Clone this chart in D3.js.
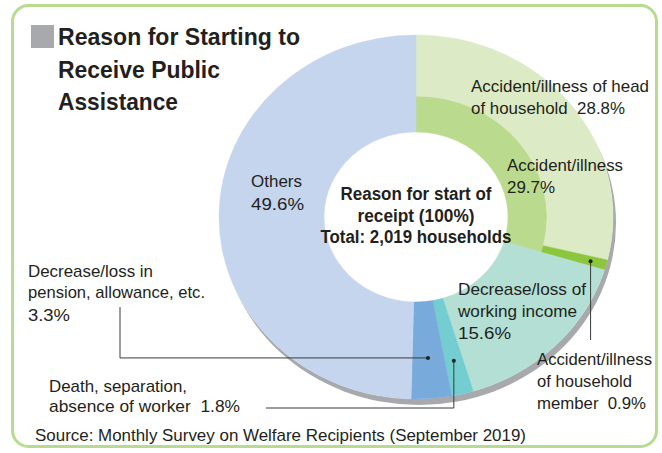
<!DOCTYPE html>
<html>
<head>
<meta charset="utf-8">
<script src="https://cdn.jsdelivr.net/npm/d3@7"></script>
<style>
  html, body { margin: 0; padding: 0; background: #ffffff; }
  svg { display: block; }
  text { font-family: "Liberation Sans", Arial, Helvetica, sans-serif; fill: #231f20; white-space: pre; }
</style>
</head>
<body>
<svg id="chart" width="662" height="453"></svg>
<script>
// ---- Data ----
const categories = [
  "Accident/illness",
  "Decrease/loss of working income",
  "Death, separation, absence of worker",
  "Decrease/loss in pension, allowance, etc.",
  "Others"
];
const values = [29.7, 15.6, 1.8, 3.3, 49.6];
const subCategories = [
  "Accident/illness of head of household",
  "Accident/illness of household member"
];
const subValues = [28.8, 0.9];
const totalHouseholds = "2,019";

// ---- Styles ----
const colors = ["#badb8d", "#b3dfd4", "#74cdd0", "#78aadc", "#c6d5ee"];
const subColors = ["#dcebc5", "#8cc63f"];

const svg = d3.select("#chart");
const cx = 416, cy = 217, rOuter = 197, rMid = 131, rInner = 92, yScale = 0.924;

// frame
svg.append("rect")
  .attr("x", 12.5).attr("y", 5.5).attr("width", 644).attr("height", 441)
  .attr("rx", 16).attr("fill", "#fff")
  .attr("stroke", "#b7db8f").attr("stroke-width", 3);

// title
svg.append("rect").attr("x", 31).attr("y", 25).attr("width", 23).attr("height", 23).attr("fill", "#a7a9ac");
const titleLines = [["Reason for Starting to", 45, 242], ["Receive Public", 78, 162], ["Assistance", 110, 120]];
titleLines.forEach(([t, y, w]) => {
  svg.append("text").attr("x", 58).attr("y", y)
    .attr("font-size", 24).attr("font-weight", "bold")
    .attr("textLength", w).attr("lengthAdjust", "spacingAndGlyphs").text(t);
});

// ---- Donut ----
const angle = d3.scaleLinear().domain([0, 100]).range([0, 2 * Math.PI]);
const cum = [0, ...d3.cumsum(values)];
const subCum = [0, ...d3.cumsum(subValues)];

const g = svg.append("g").attr("transform", `translate(${cx},${cy}) scale(1,${yScale})`);

// shadow
g.append("circle").attr("cx", 3).attr("cy", 6.5).attr("r", rOuter).attr("fill", "#a7a9ac");
g.append("circle").attr("cx", 0).attr("cy", 0).attr("r", rOuter).attr("fill", "#fff");

const arc = d3.arc();
values.forEach((v, i) => {
  const a0 = angle(cum[i]), a1 = angle(cum[i + 1]);
  if (i === 0) {
    g.append("path")
      .attr("d", arc({ innerRadius: rInner, outerRadius: rMid, startAngle: a0, endAngle: a1 }))
      .attr("fill", colors[i]).attr("stroke", colors[i]).attr("stroke-width", 0.5);
    subValues.forEach((sv, j) => {
      g.append("path")
        .attr("d", arc({ innerRadius: rMid, outerRadius: rOuter, startAngle: angle(subCum[j]), endAngle: angle(subCum[j + 1]) }))
        .attr("fill", subColors[j]).attr("stroke", subColors[j]).attr("stroke-width", 0.5);
    });
  } else {
    g.append("path")
      .attr("d", arc({ innerRadius: rInner, outerRadius: rOuter, startAngle: a0, endAngle: a1 }))
      .attr("fill", colors[i]).attr("stroke", colors[i]).attr("stroke-width", 0.5);
  }
});

// helper: screen point at given percentage position & radius
function pt(pct, r) {
  const a = angle(pct);
  return [cx + r * Math.sin(a), cy - r * Math.cos(a) * yScale];
}

// ---- Leader lines ----
const lineColor = "#3a3a3a";
function leader(points, dot) {
  svg.append("path").attr("d", d3.line()(points))
    .attr("fill", "none").attr("stroke", lineColor).attr("stroke-width", 1);
  svg.append("circle").attr("cx", dot[0]).attr("cy", dot[1]).attr("r", 2).attr("fill", "#231f20");
}
// household member
const pMember = pt(subCum[1] + subValues[1] / 2, 181);
leader([pMember, [pMember[0], 340]], pMember);
// pension
const pPension = pt(cum[3] + values[3] / 2, 153);
leader([pPension, [120, pPension[1]], [120, 307]], pPension);
// death
const pDeath = pt(cum[2] + values[2] / 2, 160);
leader([pDeath, [pDeath[0], 408], [266, 408]], pDeath);

// ---- Labels ----
function label(lines, x, size, weight, anchor) {
  lines.forEach(([t, y, w]) => {
    svg.append("text").attr("x", x).attr("y", y)
      .attr("xml:space", "preserve")
      .attr("font-size", size).attr("font-weight", weight || "normal")
      .attr("text-anchor", anchor || "start")
      .attr("textLength", w).attr("lengthAdjust", "spacingAndGlyphs")
      .text(t);
  });
}
const fs = 17;
label([["Accident/illness of head", 92, 178], [`of household  ${subValues[0]}%`, 114, 154]], 471, fs);
label([[categories[0], 171, 116], [`${values[0]}%`, 193, 48]], 507, fs);
label([["Others", 187, 51], [`${values[4]}%`, 210, 53]], 251, fs);
label([["Decrease/loss of", 295, 128], ["working income", 317, 119], [`${values[1]}%`, 339, 53]], 458, fs);
label([["Accident/illness", 365, 115], ["of household", 387, 95], [`member  ${subValues[1]}%`, 409, 109]], 537, fs);
label([["Decrease/loss in", 277, 125], ["pension, allowance, etc.", 298, 177], [`${values[3]}%`, 321, 42]], 28, fs);
label([["Death, separation,", 392, 138], [`absence of worker  ${values[2]}%`, 412, 191]], 49, fs);
label([["Source: Monthly Survey on Welfare Recipients (September 2019)", 441, 491]], 35, fs);

// center text
label([["Reason for start of", 200, 151], ["receipt (100%)", 222, 117], [`Total: ${totalHouseholds} households`, 243, 191]], 416, 18, "bold", "middle");
</script>
</body>
</html>
